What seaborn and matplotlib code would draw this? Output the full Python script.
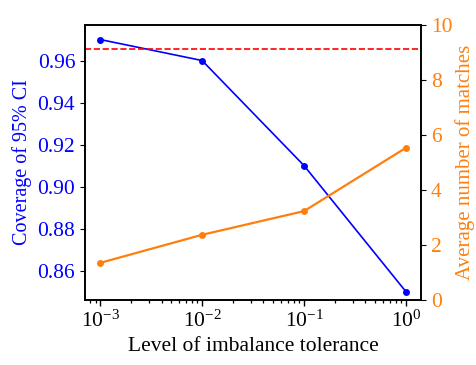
import matplotlib
matplotlib.use("Agg")
import matplotlib.pyplot as plt
import matplotlib.ticker as mticker
import seaborn as sns
import pandas as pd

# data
tolerance = [1e-3, 1e-2, 1e-1, 1e0]
coverage = [0.970, 0.960, 0.910, 0.850]
avg_matches = [1.35, 2.37, 3.23, 5.53]
nominal_line = 0.9655

sns.set_style("ticks", {'text.color': 'black', 'axes.labelcolor': 'black',
                        'xtick.color': 'black', 'ytick.color': 'black',
                        'axes.edgecolor': 'black'})
plt.rcParams['font.family'] = ['Liberation Serif', 'DejaVu Serif']
plt.rcParams['mathtext.fontset'] = 'stix'

fs_tick = 15.5
fs_lab = 14.5
df = pd.DataFrame({'tol': tolerance, 'cov': coverage, 'matches': avg_matches})

fig, ax = plt.subplots(figsize=(4.77, 3.65), dpi=100)
sns.lineplot(data=df, x='tol', y='cov', ax=ax, color='blue', marker='o',
             markersize=5, markeredgewidth=0, linewidth=1.2)
ax.set_xscale('log')
ax.xaxis.set_minor_locator(mticker.LogLocator(base=10, subs=range(2, 10), numticks=20))
ax.xaxis.set_minor_formatter(mticker.NullFormatter())
ax.axhline(nominal_line, color='red', linestyle='--', linewidth=1.2)
ax.set_ylim(0.846, 0.977)
ax.set_yticks([0.86, 0.88, 0.90, 0.92, 0.94, 0.96])
ax.set_xlabel('Level of imbalance tolerance', fontsize=15.5)
ax.set_ylabel('Coverage of 95% CI', fontsize=fs_lab, color='blue')
ax.tick_params(axis='y', labelcolor='blue', labelsize=fs_tick)
ax.tick_params(axis='x', labelsize=fs_tick)
ax.tick_params(axis='x', which='minor', length=2.5, width=0.9, color='black')
ax.tick_params(axis='x', which='major', length=4, width=1)

ax2 = ax.twinx()
sns.lineplot(data=df, x='tol', y='matches', ax=ax2, color='tab:orange', marker='o',
             markersize=5, markeredgewidth=0, linewidth=1.6)
ax2.set_ylim(0, 10)
ax2.set_ylabel('Average number of matches', fontsize=15, color='tab:orange',
               labelpad=2)
ax2.tick_params(axis='y', labelcolor='tab:orange', labelsize=fs_tick)

for a in (ax, ax2):
    for s in a.spines.values():
        s.set_visible(True)
        s.set_linewidth(1.2)
        s.set_color('black')

fig.subplots_adjust(left=0.178, right=0.883, top=0.932, bottom=0.178)
fig.savefig('out.png', dpi=100)
